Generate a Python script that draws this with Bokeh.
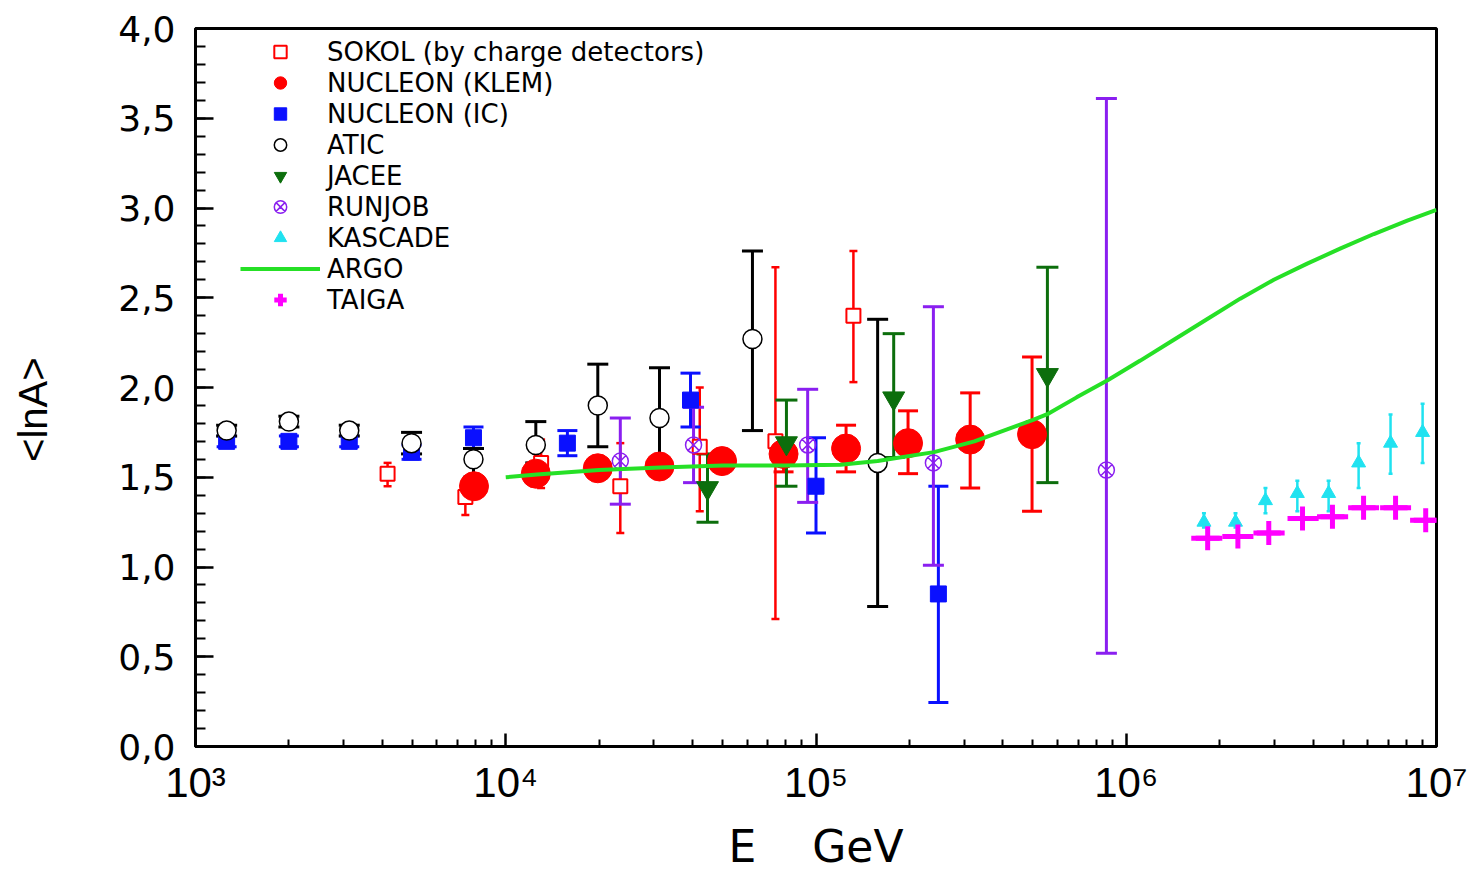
from bokeh.plotting import figure
from bokeh.models import FixedTicker, Legend, LegendItem
from bokeh.embed import file_html
from bokeh.resources import INLINE

# ---------------- data ----------------
# SOKOL (by charge detectors)
sokol_E = [4160, 7410, 13000, 23400, 42200, 74000, 132000]
sokol_lnA = [1.52, 1.39, 1.58, 1.45, 1.67, 1.70, 2.40]
sokol_hi = [1.58, 1.47, 1.71, 1.69, 2.00, 2.67, 2.76]
sokol_lo = [1.45, 1.29, 1.44, 1.19, 1.31, 0.71, 2.03]

# NUCLEON (KLEM)
klem_E = [7900, 12500, 19800, 31300, 49800, 78600, 125000, 198000, 314000, 497000]
klem_lnA = [1.45, 1.52, 1.55, 1.56, 1.59, 1.63, 1.66, 1.69, 1.71, 1.74]
klem_hi = [1.50, 1.57, 1.59, 1.60, 1.63, 1.71, 1.79, 1.87, 1.97, 2.17]
klem_lo = [1.40, 1.47, 1.51, 1.52, 1.55, 1.53, 1.53, 1.52, 1.44, 1.31]

# NUCLEON (IC)
ic_E = [1260, 2000, 3130, 4970, 7870, 15800, 39400, 100000, 248000]
ic_lnA = [1.70, 1.70, 1.70, 1.64, 1.72, 1.69, 1.93, 1.45, 0.85]
ic_hi = [1.73, 1.73, 1.73, 1.68, 1.78, 1.76, 2.08, 1.72, 1.45]
ic_lo = [1.67, 1.67, 1.67, 1.60, 1.66, 1.62, 1.78, 1.19, 0.245]

# ATIC
atic_E = [1260, 2000, 3130, 4970, 7870, 12500, 19800, 31300, 62400, 158000]
atic_lnA = [1.76, 1.81, 1.76, 1.69, 1.60, 1.68, 1.90, 1.83, 2.27, 1.58]
atic_hi = [1.79, 1.84, 1.79, 1.75, 1.66, 1.81, 2.13, 2.11, 2.76, 2.38]
atic_lo = [1.73, 1.78, 1.73, 1.63, 1.50, 1.58, 1.67, 1.58, 1.76, 0.78]

# JACEE
jacee_E = [44700, 80300, 178000, 557000]
jacee_lnA = [1.44, 1.69, 1.94, 2.07]
jacee_hi = [1.63, 1.93, 2.30, 2.67]
jacee_lo = [1.25, 1.45, 1.61, 1.47]

# RUNJOB
runjob_E = [23400, 40300, 94000, 239000, 863000]
runjob_lnA = [1.59, 1.68, 1.68, 1.58, 1.54]
runjob_hi = [1.83, 1.89, 1.99, 2.45, 3.61]
runjob_lo = [1.35, 1.47, 1.36, 1.01, 0.52]

# KASCADE
kascade_E = [1.78e6, 2.25e6, 2.81e6, 3.56e6, 4.49e6, 5.61e6, 7.11e6, 9.02e6]
kascade_lnA = [1.25, 1.25, 1.37, 1.41, 1.41, 1.58, 1.69, 1.75]
kascade_hi = [1.30, 1.30, 1.44, 1.48, 1.48, 1.69, 1.85, 1.91]
kascade_lo = [1.22, 1.22, 1.30, 1.31, 1.31, 1.44, 1.52, 1.58]

# ARGO (curve)
argo_E = [1.0e4, 1.26e4, 2.0e4, 3.16e4, 5.01e4, 7.94e4, 1.2e5, 1.58e5, 2.4e5,
          3.24e5, 5.01e5, 5.62e5, 6.92e5, 8.71e5, 1.11e6, 1.42e6, 1.82e6,
          2.33e6, 2.99e6, 3.83e6, 4.91e6, 6.28e6, 8.05e6, 1.0e7]
argo_lnA = [1.50, 1.515, 1.54, 1.555, 1.565, 1.565, 1.57, 1.59, 1.64,
            1.70, 1.82, 1.855, 1.945, 2.04, 2.15, 2.265, 2.38,
            2.495, 2.60, 2.69, 2.775, 2.855, 2.93, 2.99]

# TAIGA
taiga_E = [1.83e6, 2.29e6, 2.88e6, 3.70e6, 4.62e6, 5.82e6, 7.38e6, 9.23e6]
taiga_lnA = [1.16, 1.17, 1.19, 1.27, 1.28, 1.33, 1.33, 1.26]
taiga_Elo = [1.62e6, 2.04e6, 2.57e6, 3.31e6, 4.12e6, 5.19e6, 6.58e6, 8.22e6]
taiga_Ehi = [2.04e6, 2.57e6, 3.24e6, 4.17e6, 5.19e6, 6.53e6, 8.28e6, 1.0e7]

# axes
x_tick_values = [1e3, 1e4, 1e5, 1e6, 1e7]
x_tick_labels = ["10³", "10⁴", "10⁵", "10⁶", "10⁷"]
y_tick_values = [0.0, 0.5, 1.0, 1.5, 2.0, 2.5, 3.0, 3.5, 4.0]
y_tick_labels = ["0,0", "0,5", "1,0", "1,5", "2,0", "2,5", "3,0", "3,5", "4,0"]

# colours
RED = "#ff0000"
BLUE = "#0a10ff"
BLACK = "#000000"
DGREEN = "#0c6e0c"
PURPLE = "#8a1ff0"
CYAN = "#20e2f0"
LGREEN = "#26e026"
MAGENTA = "#ff00ff"

NBSP = "\u00a0"

# ---------------- figure ----------------
p = figure(width=1473, height=874, x_axis_type="log",
           x_range=(1e3, 1e7), y_range=(0, 4),
           output_backend="svg", toolbar_location=None,
           min_border_left=195, min_border_right=37,
           min_border_top=28, min_border_bottom=128)
p.background_fill_color = "white"
p.border_fill_color = "white"
p.outline_line_color = "black"
p.outline_line_width = 3
p.xgrid.visible = False
p.ygrid.visible = False


def errbars(E, lo, hi, color, width, cap):
    p.segment(x0=E, y0=lo, x1=E, y1=hi, line_color=color, line_width=width)
    if cap > 0:
        p.scatter(x=E + E, y=lo + hi, marker="dash", size=cap,
                  line_color=color, line_width=width)


# error bars
errbars(sokol_E, sokol_lo, sokol_hi, RED, 2.5, 8)
errbars(klem_E, klem_lo, klem_hi, RED, 3, 20)
errbars(ic_E, ic_lo, ic_hi, BLUE, 3, 20)
errbars(atic_E, atic_lo, atic_hi, BLACK, 3, 21)
errbars(jacee_E, jacee_lo, jacee_hi, DGREEN, 3, 22)
errbars(runjob_E, runjob_lo, runjob_hi, PURPLE, 3, 21)
errbars(kascade_E, kascade_lo, kascade_hi, CYAN, 2.5, 4)

# markers
r_sokol = p.scatter(sokol_E, sokol_lnA, marker="square", size=14,
                    fill_color="white", line_color=RED, line_width=2)
r_klem = p.scatter(klem_E, klem_lnA, marker="circle", size=29,
                   fill_color=RED, line_color=RED)
r_ic = p.scatter(ic_E, ic_lnA, marker="square", size=16,
                 fill_color=BLUE, line_color=BLUE)
r_atic = p.scatter(atic_E, atic_lnA, marker="circle", size=19,
                   fill_color="white", line_color=BLACK, line_width=1.5)
r_jacee = p.scatter(jacee_E, jacee_lnA, marker="inverted_triangle", size=22,
                    fill_color=DGREEN, line_color=DGREEN)
r_runjob = p.scatter(runjob_E, runjob_lnA, marker="circle_x", size=16,
                     fill_color=None, line_color=PURPLE, line_width=1.5)
r_kascade = p.scatter(kascade_E, kascade_lnA, marker="triangle", size=14,
                      fill_color=CYAN, line_color=CYAN)
r_argo = p.line(argo_E, argo_lnA, line_color=LGREEN, line_width=4)
p.segment(x0=taiga_Elo, y0=taiga_lnA, x1=taiga_Ehi, y1=taiga_lnA,
          line_color=MAGENTA, line_width=5)
r_taiga = p.scatter(taiga_E, taiga_lnA, marker="cross", size=24,
                    line_color=MAGENTA, line_width=5)

# ---------------- axes ----------------
minor_x = [m * 10 ** k for k in range(3, 7) for m in range(2, 10)]
p.xaxis.ticker = FixedTicker(ticks=x_tick_values, minor_ticks=minor_x)
p.xaxis.major_label_overrides = dict(zip(x_tick_values, x_tick_labels))
p.yaxis.ticker = FixedTicker(ticks=y_tick_values,
                             minor_ticks=[i / 10 for i in range(41)])
p.yaxis.major_label_overrides = dict(zip(y_tick_values, y_tick_labels))

for ax in (p.xaxis[0], p.yaxis[0]):
    ax.axis_line_width = 3
    ax.axis_line_color = "black"
    ax.major_tick_out = 0
    ax.minor_tick_out = 0
    ax.major_tick_line_width = 2.5
    ax.minor_tick_line_width = 2
    ax.major_label_text_color = "black"
    ax.axis_label_text_color = "black"
    ax.axis_label_text_font_style = "normal"

p.xaxis.major_tick_in = 13
p.xaxis.minor_tick_in = 7
p.yaxis.major_tick_in = 18
p.yaxis.minor_tick_in = 10

p.xaxis.major_label_text_font = "Liberation Sans"
p.xaxis.major_label_text_font_size = "42px"
p.xaxis.major_label_standoff = 12
p.xaxis.axis_label = "E" + NBSP * 4 + "GeV"
p.xaxis.axis_label_text_font = "DejaVu Sans"
p.xaxis.axis_label_text_font_size = "44px"
p.xaxis.axis_label_standoff = 12

p.yaxis.major_label_text_font = "DejaVu Sans"
p.yaxis.major_label_text_font_size = "36px"
p.yaxis.major_label_standoff = 20
p.yaxis.axis_label = "<lnA>" + NBSP * 4
p.yaxis.axis_label_text_font = "Liberation Sans"
p.yaxis.axis_label_text_font_size = "40px"
p.yaxis.axis_label_standoff = 60

# ---------------- legend ----------------
legend = Legend(items=[
    LegendItem(label="SOKOL (by charge detectors)", renderers=[r_sokol]),
    LegendItem(label="NUCLEON (KLEM)", renderers=[r_klem]),
    LegendItem(label="NUCLEON (IC)", renderers=[r_ic]),
    LegendItem(label="ATIC", renderers=[r_atic]),
    LegendItem(label="JACEE", renderers=[r_jacee]),
    LegendItem(label="RUNJOB", renderers=[r_runjob]),
    LegendItem(label="KASCADE", renderers=[r_kascade]),
    LegendItem(label="ARGO", renderers=[r_argo]),
    LegendItem(label="TAIGA", renderers=[r_taiga]),
], location=(45, 431))
legend.label_text_font = "DejaVu Sans"
legend.label_text_font_size = "26px"
legend.label_text_color = "black"
legend.glyph_width = 80
legend.glyph_height = 31
legend.label_height = 31
legend.spacing = 0
legend.padding = 0
legend.margin = 0
legend.label_standoff = 7
legend.border_line_alpha = 0
legend.background_fill_alpha = 0
p.add_layout(legend)

open("out.html", "w").write(file_html(p, INLINE))
